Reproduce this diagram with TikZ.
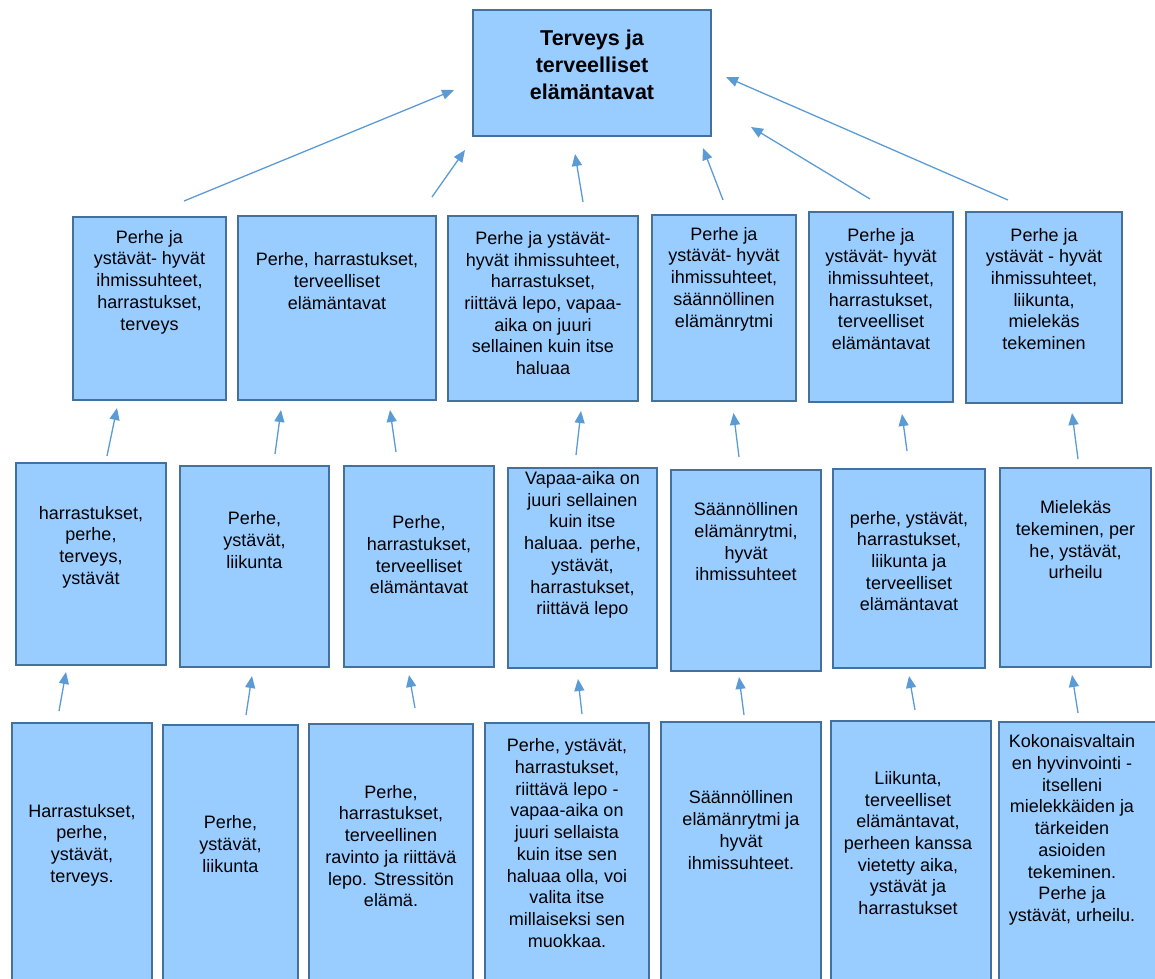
\documentclass[tikz,border=0pt]{standalone}
\usepackage{fontspec}
\setmainfont{Liberation Sans}
\usetikzlibrary{arrows.meta,fit}
\definecolor{boxfill}{RGB}{153,204,255}
\definecolor{boxline}{RGB}{65,113,156}
\definecolor{arrcol}{RGB}{91,155,213}
\newcommand\mkbox[5]{\node[boxsh, fit={(#2,#3) (#4,#5)}] (#1) {};}
\begin{document}
\begin{tikzpicture}[x=1pt,y=-1pt,
  boxsh/.style={draw=boxline, fill=boxfill, line width=2pt, inner sep=0pt, rectangle},
  txt/.style={align=center, font=\fontsize{18}{21.7}\selectfont, inner sep=0pt, text=black},
  ttl/.style={align=center, font=\fontsize{21.5}{27}\selectfont\bfseries, inner sep=0pt, text=black},
  arr/.style={draw=arrcol, line width=1.3pt, -{Triangle[length=12pt,width=10pt]}}]
\useasboundingbox (0,0) rectangle (1155,978);
\clip (0,0) rectangle (1155,978);
% top
\mkbox{top}{473}{10}{711}{136}
\node[ttl] (ttop) at (592,65) {Terveys ja\\terveelliset\\elämäntavat};
% row 2
\mkbox{bA}{73}{217}{226}{400}
\mkbox{bB}{238}{216}{436}{400}
\mkbox{bC}{448}{216}{638}{401}
\mkbox{bD}{652}{215}{796}{401}
\mkbox{bE}{809}{212}{953}{402}
\mkbox{bF}{966}{212}{1122}{403}
\node[txt] (tA) at (149.5,282) {Perhe ja\\ystävät- hyvät\\ihmissuhteet,\\harrastukset,\\terveys};
\node[txt] (tB) at (337,281) {Perhe, harrastukset,\\terveelliset\\elämäntavat};
\node[txt] (tC) at (543,303) {Perhe ja ystävät-\\hyvät ihmissuhteet,\\harrastukset,\\riittävä lepo, vapaa-\\aika on juuri\\sellainen kuin itse\\haluaa};
\node[txt] (tD) at (724,279) {Perhe ja\\ystävät- hyvät\\ihmissuhteet,\\säännöllinen\\elämänrytmi};
\node[txt] (tE) at (881,289) {Perhe ja\\ystävät- hyvät\\ihmissuhteet,\\harrastukset,\\terveelliset\\elämäntavat};
\node[txt] (tF) at (1044,289) {Perhe ja\\ystävät - hyvät\\ihmissuhteet,\\liikunta,\\mielekäs\\tekeminen};
% row 3
\mkbox{bG}{16}{463}{166}{665}
\mkbox{bH}{180}{466}{329}{667}
\mkbox{bI}{344}{466}{494}{667}
\mkbox{bJ}{508}{468}{657}{668}
\mkbox{bK}{671}{470}{821}{671}
\mkbox{bL}{833}{469}{985}{668}
\mkbox{bM}{1000}{468}{1151}{667}
\node[txt] (tG) at (91,547) {harrastukset,\\perhe,\\terveys,\\ystävät};
\node[txt] (tH) at (254.5,540) {Perhe,\\ystävät,\\liikunta};
\node[txt] (tI) at (419,555) {Perhe,\\harrastukset,\\terveelliset\\elämäntavat};
\node[txt] (tJ) at (582.5,545) {Vapaa-aika on\\juuri sellainen\\kuin itse\\haluaa. perhe,\\ystävät,\\harrastukset,\\riittävä lepo};
\node[txt] (tK) at (746,542) {Säännöllinen\\elämänrytmi,\\hyvät\\ihmissuhteet};
\node[txt] (tL) at (909,561) {perhe, ystävät,\\harrastukset,\\liikunta ja\\terveelliset\\elämäntavat};
\node[txt] (tM) at (1075.5,540) {Mielekäs\\tekeminen, per\\he, ystävät,\\urheilu};
% row 4
\mkbox{bN}{12}{723}{152}{995}
\mkbox{bO}{163}{725}{298}{995}
\mkbox{bP}{309}{724}{473}{995}
\mkbox{bQ}{485}{723}{649}{995}
\mkbox{bR}{661}{722}{821}{995}
\mkbox{bS}{831}{721}{991}{995}
\mkbox{bT}{999}{722}{1175}{995}
\node[txt] (tN) at (82,845) {Harrastukset,\\perhe,\\ystävät,\\terveys.};
\node[txt] (tO) at (230.5,844) {Perhe,\\ystävät,\\liikunta};
\node[txt] (tP) at (391,846) {Perhe,\\harrastukset,\\terveellinen\\ravinto ja riittävä\\lepo. Stressitön\\elämä.};
\node[txt] (tQ) at (567,843) {Perhe, ystävät,\\harrastukset,\\riittävä lepo -\\vapaa-aika on\\juuri sellaista\\kuin itse sen\\haluaa olla, voi\\valita itse\\millaiseksi sen\\muokkaa.};
\node[txt] (tR) at (741,830) {Säännöllinen\\elämänrytmi ja\\hyvät\\ihmissuhteet.};
\node[txt] (tS) at (908,843) {Liikunta,\\terveelliset\\elämäntavat,\\perheen kanssa\\vietetty aika,\\ystävät ja\\harrastukset};
\node[txt] (tT) at (1072,830) {Kokonaisvaltain\\en hyvinvointi -\\itselleni\\mielekkäiden ja\\tärkeiden\\asioiden\\tekeminen.\\Perhe ja\\ystävät, urheilu.};
% arrows row2 -> top
\coordinate (s1) at (184,201); \coordinate (e1) at (454,90);
\coordinate (s2) at (432,197); \coordinate (e2) at (465,150);
\coordinate (s3) at (583,202); \coordinate (e3) at (575,154);
\coordinate (s4) at (723,200); \coordinate (e4) at (703,148);
\coordinate (s5) at (870,199); \coordinate (e5) at (751,127);
\coordinate (s6) at (1008,200); \coordinate (e6) at (726,77);
\foreach \i in {1,...,6} {\draw[arr] (s\i) -- (e\i);}
% arrows row3 -> row2
\coordinate (u1) at (107,456); \coordinate (v1) at (117,408);
\coordinate (u2) at (275,454); \coordinate (v2) at (281,410);
\coordinate (u3) at (396,452); \coordinate (v3) at (390,410);
\coordinate (u4) at (576,455); \coordinate (v4) at (581,411);
\coordinate (u5) at (739,457); \coordinate (v5) at (733.5,413);
\coordinate (u6) at (907,451); \coordinate (v6) at (902,414);
\coordinate (u7) at (1078,459); \coordinate (v7) at (1072,413);
\foreach \i in {1,...,7} {\draw[arr] (u\i) -- (v\i);}
% arrows row4 -> row3
\coordinate (p1) at (59,711); \coordinate (q1) at (66,672);
\coordinate (p2) at (246,715); \coordinate (q2) at (252,676);
\coordinate (p3) at (415,708); \coordinate (q3) at (409,675);
\coordinate (p4) at (582,714); \coordinate (q4) at (578,679);
\coordinate (p5) at (744,715); \coordinate (q5) at (739,677);
\coordinate (p6) at (915,710); \coordinate (q6) at (909,676);
\coordinate (p7) at (1078,713); \coordinate (q7) at (1072,675);
\foreach \i in {1,...,7} {\draw[arr] (p\i) -- (q\i);}
\end{tikzpicture}
\end{document}
